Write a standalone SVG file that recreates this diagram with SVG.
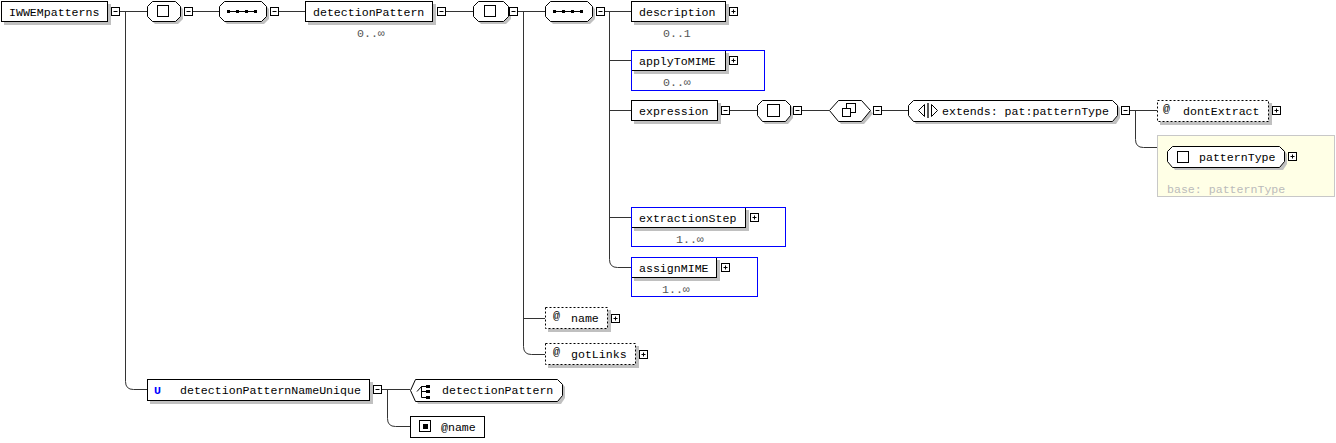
<svg xmlns="http://www.w3.org/2000/svg" width="1336" height="443" viewBox="0 0 1336 443">
<style>
text{font-family:"Liberation Mono","DejaVu Sans Mono",monospace;font-size:11.6px;fill:#000}
.occ{fill:#555}
.base{fill:#bbb}
.box{fill:#fff;stroke:#000;stroke-width:1}
.dash{fill:#fff;stroke:#000;stroke-width:1;stroke-dasharray:2,2}
.sh{fill:#c0c0c0;stroke:none}
.btn{fill:#fff;stroke:#000;stroke-width:1}
.sign{stroke:#000;stroke-width:1;fill:none}
.grp{fill:none;stroke:#0000ff;stroke-width:1}
.cn{fill:none;stroke:#333;stroke-width:1}
.ico{fill:#fff;stroke:#000;stroke-width:1}
</style>
<defs>
<g id="minus"><rect class="btn" x="0.5" y="0.5" width="8" height="8"/><path class="sign" d="M2.5,4.5H6.5"/></g>
<g id="plus"><rect class="btn" x="0.5" y="0.5" width="8" height="8"/><path class="sign" d="M2.5,4.5H6.5M4.5,2.5V6.5"/></g>
</defs>

<g id="connectors">
<path class="cn" d="M120,11.5H147M125.5,11.5V381.5Q125.5,389.5 133.5,389.5H147"/>
<path class="cn" d="M193,11.5H219"/>
<path class="cn" d="M279,11.5H305"/>
<path class="cn" d="M446,11.5H473"/>
<path class="cn" d="M518,11.5H545M523.5,11.5V346.5Q523.5,354.5 531.5,354.5H545M523.5,318.5H545"/>
<path class="cn" d="M605,11.5H631M609.5,11.5V259.5Q609.5,267.5 617.5,267.5H631M609.5,60.5H631M609.5,110.5H631M609.5,217.5H631"/>
<path class="cn" d="M730,110.5H757"/>
<path class="cn" d="M802,110.5H829"/>
<path class="cn" d="M882,110.5H908"/>
<path class="cn" d="M1130,110.5H1157M1135.5,110.5V139.5Q1135.5,147.5 1143.5,147.5H1157"/>
<path class="cn" d="M382,389.5H410M387.5,389.5V418.5Q387.5,426.5 395.5,426.5H410"/>
</g>

<g id="IWWEMpatterns">
<rect class="sh" x="4" y="4" width="107" height="21"/>
<rect class="box" x="1.5" y="1.5" width="106" height="20"/>
<text x="9" y="15.5">IWWEMpatterns</text>
<use href="#minus" x="111" y="7"/>
</g>

<g id="seq1">
<path class="sh" d="M155,4H178L183,9V19L178,24H155L150,19V9Z"/>
<path class="box" d="M152.5,1.5H175.5L180.5,6.5V16.5L175.5,21.5H152.5L147.5,16.5V6.5Z"/>
<rect class="ico" x="157.5" y="5.5" width="11" height="11"/>
<use href="#minus" x="184" y="7"/>
</g>

<g id="seq2">
<path class="sh" d="M227,4H264L269,9V19L264,24H227L222,19V9Z"/>
<path class="box" d="M224.5,1.5H261.5L266.5,6.5V16.5L261.5,21.5H224.5L219.5,16.5V6.5Z"/>
<path d="M228,11.5H257" stroke="#000" stroke-width="1"/>
<rect x="227" y="10" width="3" height="3" fill="#000"/>
<rect x="236" y="10" width="3" height="3" fill="#000"/>
<rect x="245" y="10" width="3" height="3" fill="#000"/>
<rect x="254" y="10" width="3" height="3" fill="#000"/>
<use href="#minus" x="270" y="7"/>
</g>

<g id="detectionPattern">
<rect class="sh" x="308" y="4" width="128" height="21"/>
<rect class="box" x="305.5" y="1.5" width="127" height="20"/>
<text x="313" y="15.5">detectionPattern</text>
<use href="#minus" x="437" y="7"/>
<text class="occ" x="357" y="36.5">0..∞</text>
</g>

<g id="seq3">
<path class="sh" d="M481,4H506L511,9V19L506,24H481L476,19V9Z"/>
<path class="box" d="M478.5,1.5H503.5L508.5,6.5V16.5L503.5,21.5H478.5L473.5,16.5V6.5Z"/>
<rect class="ico" x="484.5" y="5.5" width="11" height="11"/>
<use href="#minus" x="509" y="7"/>
</g>

<g id="seq4">
<path class="sh" d="M553,4H590L595,9V19L590,24H553L548,19V9Z"/>
<path class="box" d="M550.5,1.5H587.5L592.5,6.5V16.5L587.5,21.5H550.5L545.5,16.5V6.5Z"/>
<path d="M554,11.5H583" stroke="#000" stroke-width="1"/>
<rect x="553" y="10" width="3" height="3" fill="#000"/>
<rect x="562" y="10" width="3" height="3" fill="#000"/>
<rect x="571" y="10" width="3" height="3" fill="#000"/>
<rect x="580" y="10" width="3" height="3" fill="#000"/>
<use href="#minus" x="596" y="7"/>
</g>

<g id="description">
<rect class="sh" x="634" y="4" width="95" height="21"/>
<rect class="box" x="631.5" y="1.5" width="94" height="20"/>
<text x="639" y="15.5">description</text>
<use href="#plus" x="729" y="7"/>
<text class="occ" x="663" y="36.5">0..1</text>
</g>

<g id="applyToMIME">
<rect class="sh" x="634" y="53" width="95" height="21"/>
<rect class="box" x="631.5" y="50.5" width="94" height="20"/>
<text x="639" y="64.5">applyToMIME</text>
<use href="#plus" x="729" y="56"/>
<text class="occ" x="663" y="86">0..∞</text>
<rect class="grp" x="631.5" y="50.5" width="133" height="40"/>
</g>

<g id="expression">
<rect class="sh" x="634" y="103" width="87" height="21"/>
<rect class="box" x="631.5" y="100.5" width="86" height="20"/>
<text x="639" y="114.5">expression</text>
<use href="#minus" x="721" y="106"/>
</g>

<g id="seq5">
<path class="sh" d="M765,103H788L793,108V118L788,124H765L760,118V108Z"/>
<path class="box" d="M762.5,100.5H785.5L790.5,105.5V115.5L785.5,121.5H762.5L757.5,115.5V105.5Z"/>
<rect class="ico" x="767.5" y="104.5" width="12" height="12"/>
<use href="#minus" x="793" y="106"/>
</g>

<g id="choice">
<path class="sh" d="M841,103H864L873,113.5L864,124H841L832,113.5Z"/>
<path class="box" d="M838.5,100.5H861.5L870.5,110.5L861.5,121.5H838.5L829.5,110.5Z"/>
<rect class="ico" x="846.5" y="103.5" width="9" height="9"/>
<rect class="ico" x="842.5" y="108.5" width="8" height="8"/>
<use href="#minus" x="873" y="106"/>
</g>

<g id="extends">
<path class="sh" d="M916,103H1116L1120,108V118L1116,124H916L912,118V108Z"/>
<path class="box" d="M913.5,100.5H1112.5L1117.5,105.5V115.5L1112.5,121.5H913.5L908.5,115.5V105.5Z"/>
<path d="M924.5,104.5L918.5,110.5L924.5,116.5ZM931.5,104.5L937.5,110.5L931.5,116.5Z" fill="#fff" stroke="#000" stroke-width="1"/>
<path d="M928,103V118" stroke="#000" stroke-width="1.3"/>
<text x="942" y="114.5">extends: pat:patternType</text>
<use href="#minus" x="1121" y="106"/>
</g>

<g id="dontExtract">
<rect class="sh" x="1160" y="103" width="112" height="22"/>
<rect class="dash" x="1157.5" y="100.5" width="111" height="21"/>
<text x="1163" y="111.5" font-size="10px">@</text>
<text x="1183" y="115">dontExtract</text>
<use href="#plus" x="1272" y="106"/>
</g>

<g id="patternType">
<rect x="1157.5" y="135.5" width="177" height="61" fill="#ffffe6" stroke="#c8c8c8" stroke-width="1"/>
<path class="sh" d="M1175,149H1283L1287,154V164L1283,170H1175L1171,164V154Z"/>
<path class="box" d="M1172.5,146.5H1279.5L1284.5,151.5V161.5L1279.5,167.5H1172.5L1167.5,161.5V151.5Z"/>
<rect class="ico" x="1177.5" y="151.5" width="11" height="11"/>
<text x="1199" y="161">patternType</text>
<use href="#plus" x="1288" y="152"/>
<text class="base" x="1167" y="193">base: patternType</text>
</g>

<g id="extractionStep">
<rect class="sh" x="634" y="210" width="115" height="21"/>
<rect class="box" x="631.5" y="207.5" width="114" height="20"/>
<text x="639" y="221.5">extractionStep</text>
<use href="#plus" x="750" y="213"/>
<text class="occ" x="676" y="243">1..∞</text>
<rect class="grp" x="631.5" y="207.5" width="154" height="39"/>
</g>

<g id="assignMIME">
<rect class="sh" x="634" y="260" width="86" height="21"/>
<rect class="box" x="631.5" y="257.5" width="85" height="20"/>
<text x="639" y="271.5">assignMIME</text>
<use href="#plus" x="721" y="263"/>
<text class="occ" x="662" y="293">1..∞</text>
<rect class="grp" x="631.5" y="257.5" width="126" height="39"/>
</g>

<g id="name">
<rect class="sh" x="548" y="310" width="63" height="22"/>
<rect class="dash" x="545.5" y="307.5" width="62" height="21"/>
<text x="553" y="318.5" font-size="10px">@</text>
<text x="571" y="322">name</text>
<use href="#plus" x="611" y="314"/>
</g>

<g id="gotLinks">
<rect class="sh" x="548" y="346" width="91" height="22"/>
<rect class="dash" x="545.5" y="343.5" width="90" height="21"/>
<text x="553" y="354.5" font-size="10px">@</text>
<text x="571" y="358">gotLinks</text>
<use href="#plus" x="639" y="350"/>
</g>

<g id="detectionPatternNameUnique">
<rect class="sh" x="150" y="382" width="223" height="22"/>
<rect class="box" x="147.5" y="379.5" width="222" height="21"/>
<text x="154" y="394" fill="#0000ff" style="fill:#0000ff;font-weight:bold">U</text>
<text x="180" y="394">detectionPatternNameUnique</text>
<use href="#minus" x="373" y="385"/>
</g>

<g id="selector">
<path class="sh" d="M418,382H561L565,387V398L561,404H418L413,393Z"/>
<path class="box" d="M415.5,379.5H557.5L562.5,384.5V395.5L557.5,401.5H415.5L410.5,390.5Z"/>
<path d="M417,391.5L421.5,386.5V391.5M421.5,386.5H427M421.5,391.5H427M421.5,386.5V397.5H427" fill="none" stroke="#000" stroke-width="1"/>
<rect x="426" y="385" width="4" height="3" fill="#000"/>
<rect x="426" y="390" width="4" height="3" fill="#000"/>
<rect x="426" y="396" width="4" height="3" fill="#000"/>
<text x="442" y="394">detectionPattern</text>
</g>

<g id="field">
<rect class="box" x="410.5" y="416.5" width="74" height="21"/>
<rect class="ico" x="419.5" y="420.5" width="11" height="11"/>
<rect x="423" y="424" width="5" height="5" fill="#000"/>
<text x="441" y="431">@name</text>
</g>
</svg>
